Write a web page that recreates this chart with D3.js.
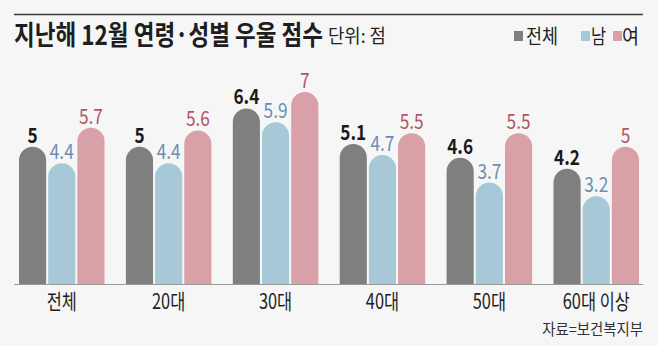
<!DOCTYPE html>
<html>
<head>
<meta charset="utf-8">
<script src="https://cdn.jsdelivr.net/npm/d3@7"></script>
<style>
  html, body { margin: 0; padding: 0; background: #f6f6f6; }
  svg { display: block; }
  text { font-family: "Noto Sans CJK KR", "Noto Sans", sans-serif; }
</style>
</head>
<body>
<svg id="chart" width="658" height="346"></svg>
<script>
// Depression scores for December, by age group and sex (unit: points)
const categories = ["전체", "20대", "30대", "40대", "50대", "60대 이상"];
const seriesNames = ["전체", "남", "여"];
const totalValues = [5, 5, 6.4, 5.1, 4.6, 4.2];
const maleValues = [4.4, 4.4, 5.9, 4.7, 3.7, 3.2];
const femaleValues = [5.7, 5.6, 7, 5.5, 5.5, 5];

const barColors = ["#7f7f7f", "#a7c8d7", "#d9a1a7"];
const labelColors = ["#1a1a1a", "#6b8db3", "#b35568"];
const labelWeights = [700, 400, 400];

const svg = d3.select("#chart");
const W = 658, H = 346;

svg.append("rect").attr("width", W).attr("height", H).attr("fill", "#f6f6f6");

// top rule
svg.append("line")
  .attr("x1", 14).attr("x2", 643).attr("y1", 14.5).attr("y2", 14.5)
  .attr("stroke", "#3a3a3a").attr("stroke-width", 1.3);

// Place text and squeeze it horizontally so it spans a given width
function fitted(sel, x, y, width, anchor) {
  sel.attr("text-anchor", anchor || "start");
  const len = sel.node().getComputedTextLength();
  const sx = Math.min(1, width / len);
  return sel.attr("transform", `translate(${x},${y}) scale(${sx},1)`);
}

// title
fitted(svg.append("text")
  .attr("font-size", 27).attr("font-weight", 700).attr("fill", "#1e1e1e")
  .text("지난해 12월 연령·성별 우울 점수"), 14, 45, 309);
fitted(svg.append("text")
  .attr("font-size", 19).attr("fill", "#222")
  .text("단위: 점"), 328, 43, 58);

// legend
const legendItems = [
  { name: seriesNames[0], sx: 514, tx: 526, w: 32 },
  { name: seriesNames[1], sx: 581, tx: 591, w: 15 },
  { name: seriesNames[2], sx: 613, tx: 622, w: 17 }
];
legendItems.forEach((d, i) => {
  svg.append("rect").attr("x", d.sx).attr("y", 31).attr("width", 9).attr("height", 10)
    .attr("fill", barColors[i]);
  fitted(svg.append("text").attr("font-size", 20).attr("fill", "#222").text(d.name),
    d.tx, 44, d.w);
});

// scales
const baseY = 284;
const x0 = d3.scaleBand().domain(categories).range([19, 639]).paddingInner(0.2).paddingOuter(0);
const x1 = d3.scaleBand().domain(seriesNames).range([0, x0.bandwidth()]).paddingInner(0.07);
const y = d3.scaleLinear().domain([0, 7]).range([baseY, 92]);

const seriesValues = [totalValues, maleValues, femaleValues];
const rows = categories.map((c, ci) => ({
  cat: c,
  vals: seriesNames.map((s, si) => ({ s, si, v: seriesValues[si][ci] }))
}));

function roundTop(x, top, w, base) {
  const r = w / 2;
  return `M${x},${base} L${x},${top + r} A${r},${r} 0 0 1 ${x + w},${top + r} L${x + w},${base} Z`;
}

const groups = svg.append("g").selectAll("g").data(rows).join("g")
  .attr("transform", d => `translate(${x0(d.cat)},0)`);

groups.selectAll("path").data(d => d.vals).join("path")
  .attr("d", d => roundTop(x1(d.s), y(d.v), x1.bandwidth(), baseY))
  .attr("fill", d => barColors[d.si]);

groups.selectAll("text.val").data(d => d.vals).join("text")
  .attr("class", "val")
  .attr("transform", d => `translate(${x1(d.s) + x1.bandwidth() / 2},${y(d.v) - 4}) scale(0.84,1)`)
  .attr("text-anchor", "middle")
  .attr("font-family", "Roboto, 'Noto Sans', sans-serif")
  .attr("font-size", 20.5)
  .attr("font-weight", d => labelWeights[d.si])
  .attr("fill", d => labelColors[d.si])
  .text(d => d3.format("")(d.v));

// baseline axis
const axis = svg.append("g").attr("transform", `translate(0,${baseY})`)
  .call(d3.axisBottom(x0).tickSize(0).tickPadding(0));
axis.select(".domain").remove();
svg.append("line").attr("x1", 14).attr("x2", 643).attr("y1", baseY + 0.5).attr("y2", baseY + 0.5)
  .attr("stroke", "#9a9a9a").attr("stroke-width", 1);
axis.selectAll(".tick text")
  .attr("y", 0).attr("dy", 0)
  .attr("transform", "translate(0,25) scale(0.78,1)")
  .attr("font-family", "'Noto Sans CJK KR', sans-serif")
  .attr("font-size", 21).attr("fill", "#1e1e1e");

// source note
fitted(svg.append("text").attr("font-size", 16).attr("fill", "#333").text("자료=보건복지부"),
  643, 335, 101, "end");
</script>
</body>
</html>
